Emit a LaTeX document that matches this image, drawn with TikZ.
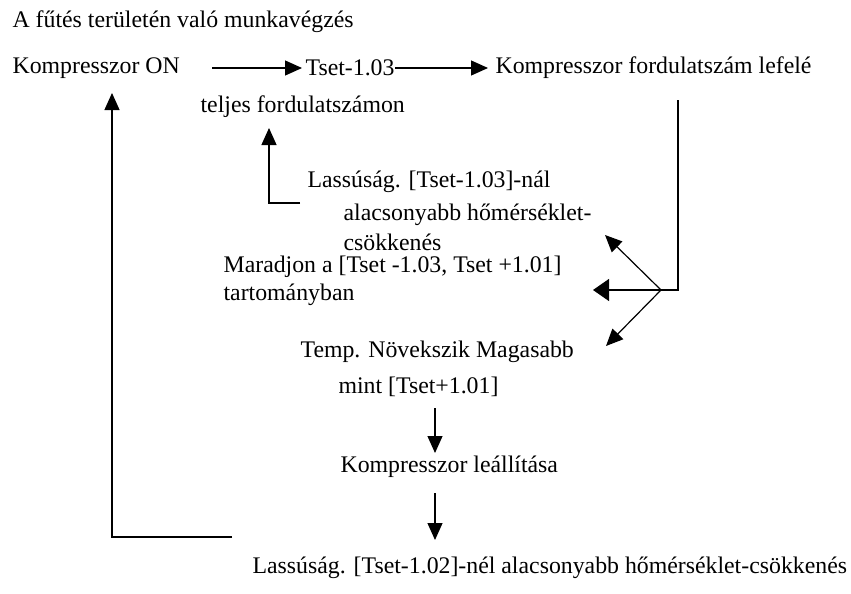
\documentclass[tikz,border=0pt]{standalone}
\usepackage{fontspec}
\setmainfont{Liberation Serif}
\usetikzlibrary{arrows.meta}
\tikzset{
 >={Triangle[length=8.5pt,width=7.5pt]},
 lbl/.style={anchor=west,inner sep=0pt,font=\fontsize{11.9}{14}\selectfont}
}

\begin{document}
\begin{tikzpicture}[x=0.5pt,y=-0.5pt,line width=0.6pt]
\useasboundingbox (0,0) rectangle (851,594);

\path (12,22) node[lbl,name=title] {A fűtés területén való munkavégzés};
\path (12,68) node[lbl,name=kon] {Kompresszor ON};
\path (305,68) node[lbl,name=tset] {Tset-1.03};
\path (495,68) node[lbl,name=kford] {Kompresszor fordulatszám lefelé};
\path (200,107) node[lbl,name=teljes] {teljes fordulatszámon};
\path (307,182) node[lbl,name=lass1] {Lassúság. [Tset-1.03]-nál};
\path (343,215) node[lbl,name=alac] {alacsonyabb hőmérséklet-};
\path (343,242) node[lbl,name=csok] {csökkenés};
\path (223,267) node[lbl,name=marad] {Maradjon a [Tset -1.03, Tset +1.01]};
\path (223,295) node[lbl,name=tart] {tartományban};
\path (300,352) node[lbl,name=temp] {Temp. Növekszik Magasabb};
\path (338,387) node[lbl,name=mint] {mint [Tset+1.01]};
\path (340,467) node[lbl,name=leall] {Kompresszor leállítása};
\path (252,568) node[lbl,name=lass2] {Lassúság. [Tset-1.02]-nél alacsonyabb hőmérséklet-csökkenés};

% end points of the bent lines
\path (678,100) coordinate (drop);
\path (678,290) coordinate (turn);
\path (661,290) coordinate (fork);
\path (605,235) coordinate (upcsok);
\path (593,290) coordinate (tomarad);
\path (606,346) coordinate (totemp);
\path (300,203) coordinate (lassin);
\path (269,203) coordinate (lasscorner);
\path (269,128) coordinate (toteljes);
\path (435,408) coordinate (minout);
\path (435,453) coordinate (toleall);
\path (435,493) coordinate (leallout);
\path (435,540) coordinate (tolass);
\path (232,537) coordinate (backin);
\path (112,537) coordinate (backcorner);
\path (112,93) coordinate (tokon);

\path[->] (kon.east) edge[shorten <=16pt,shorten >=1.5pt] (tset.west);
\path[->] (tset.east) edge[shorten >=3.5pt] (kford.west);

\draw (drop) -- (turn) -- (fork);
\draw[->] (fork) -- (upcsok);
\draw[->,>={Triangle[length=8pt,width=11pt]}] (fork) -- (tomarad);
\draw[->] (fork) -- (totemp);

\draw[->] (lassin) -- (lasscorner) -- (toteljes);
\path[->] (minout) edge (toleall);
\path[->] (leallout) edge (tolass);
\draw[->] (backin) -- (backcorner) -- (tokon);

\end{tikzpicture}
\end{document}
